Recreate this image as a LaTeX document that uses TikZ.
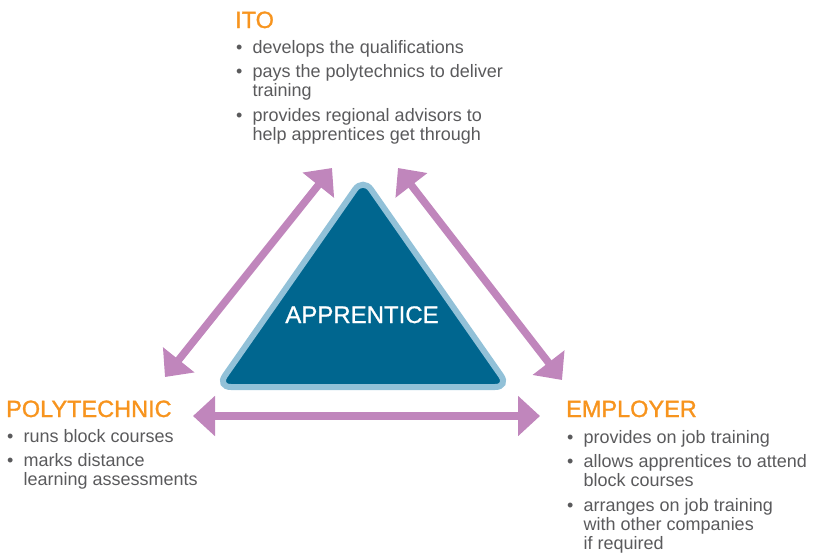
\documentclass[tikz,border=0pt]{standalone}
\usepackage{fontspec}
\setmainfont{Liberation Sans}
\newfontfamily\headfont{Liberation Sans}[FakeBold=1.3]
\newfontfamily\centrefont{Liberation Sans}[FakeBold=0.9]
\usetikzlibrary{positioning,arrows.meta}

\definecolor{headorange}{RGB}{247,148,30}
\definecolor{bodygrey}{RGB}{90,90,92}
\definecolor{linkpurple}{RGB}{192,134,188}
\definecolor{apprblue}{RGB}{0,102,143}
\definecolor{apprrim}{RGB}{146,193,216}

\newlength{\bulw}
\setlength{\bulw}{16.5pt}
\newcommand{\bul}{\makebox[\bulw][l]{\textbullet}}
\newcommand{\cont}{\hspace*{\bulw}}

\begin{document}
\begin{tikzpicture}[x=1pt,y=-1pt,
% Heading and list style
		head/.style={inner sep=0pt
							    , text=headorange
							    , font=\headfont\fontsize{23.5}{26}\selectfont
							    , anchor=base west},
		items/.style={inner sep=0pt
							    , text=bodygrey
							    , align=left
							    , font=\fontsize{18}{19.1}\selectfont},
% Centre and link style
		centre/.style={fill=apprblue
							    , draw=apprrim
							    , line width=6pt
							    , rounded corners=14pt},
		link/.style={draw=linkpurple
							    , line width=7.5pt
							    , {Triangle[width=39pt,length=22pt]}-{Triangle[width=39pt,length=22pt]}}
	]
	\useasboundingbox (0,0) rectangle (813,554);

%% Triangle in the middle
	\coordinate (apex) at (363,178);
	\coordinate (lcorner) at (217,387);
	\coordinate (rcorner) at (509,387);
	\draw[centre] (apex) -- (rcorner) -- (lcorner) -- cycle;
	\node [inner sep=0pt, anchor=base, text=white
	       , font=\centrefont\fontsize{24}{26}\selectfont] (appr) at (362,323) {APPRENTICE};

%% Partners
	\node [head] (ito) at (235,28) {ITO};
	\node [items] (itolist) [below right=12pt and 1pt of ito.base west] {%
		\bul develops the qualifications\\[5.5pt]
		\bul pays the polytechnics to deliver\\
		\cont training\\[5.5pt]
		\bul provides regional advisors to\\
		\cont help apprentices get through};

	\node [head] (poly) at (6,417) {POLYTECHNIC};
	\node [items] (polylist) [below right=12pt and 1pt of poly.base west] {%
		\bul runs block courses\\[5.5pt]
		\bul marks distance\\
		\cont learning assessments};

	\node [head] (empl) at (566,417) {EMPLOYER};
	\node [items] (empllist) [below right=13pt and 1pt of empl.base west] {%
		\bul provides on job training\\[5.5pt]
		\bul allows apprentices to attend\\
		\cont block courses\\[5.5pt]
		\bul arranges on job training\\
		\cont with other companies\\
		\cont if required};

%% Links between partners
	\coordinate (ito-l) at (332,168);
	\coordinate (ito-r) at (398,168);
	\coordinate (poly-t) at (165,377);
	\coordinate (poly-r) at (193,416);
	\coordinate (empl-t) at (562,380);
	\coordinate (empl-l) at (540,416);
	\draw[link] (ito-l) -- (poly-t);
	\draw[link] (ito-r) -- (empl-t);
	\draw[link] (poly-r) -- (empl-l);
\end{tikzpicture}
\end{document}
